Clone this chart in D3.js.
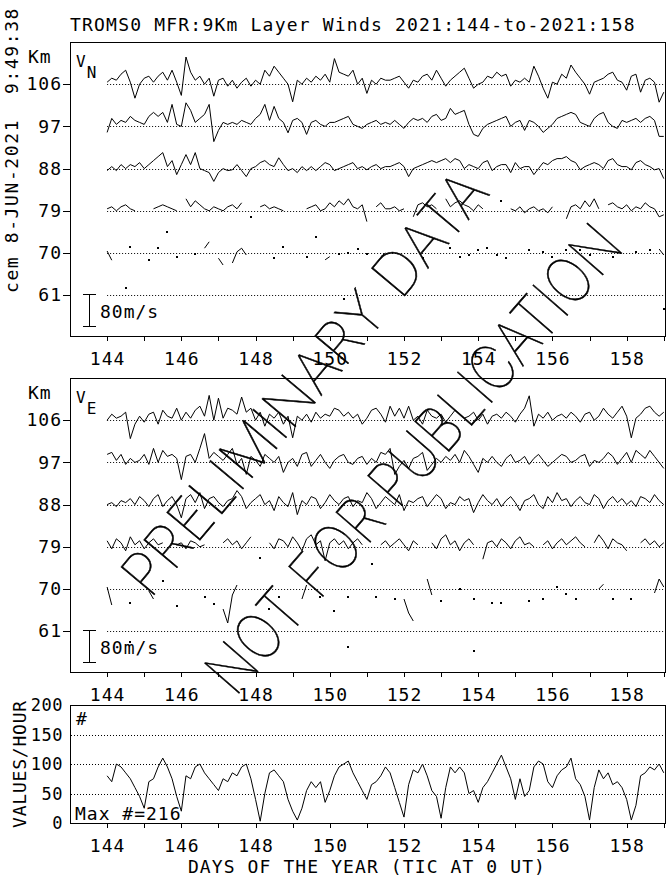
<!DOCTYPE html>
<html><head><meta charset="utf-8">
<script src="https://cdn.jsdelivr.net/npm/d3@7"></script>
<style>
body{margin:0;background:#fff}
svg{display:block}
text{font-family:"DejaVu Sans Mono",monospace;font-size:18px;fill:#000;letter-spacing:1px}
</style></head><body>
<script>
// ---------- DATA (3-hourly samples, day 144.0 .. 159.0) ----------
const title = "TROMS0 MFR:9Km Layer Winds 2021:144-to-2021:158";
const stamp = "cem 8-JUN-2021  9:49:38";
const heights = [106, 97, 88, 79, 70, 61];
const dayTicks = [144,145,146,147,148,149,150,151,152,153,154,155,156,157,158,159];
const countTicks = [0, 50, 100, 150, 200];
const maxCount = 216;

// Northward wind (m/s) per layer
const vn106 = [5,15,10,25,35,5,-35,0,15,20, 5,20,30,10,35,5,-28,68,30,10, 20,0,15,-30,10,15,-5,10,-10,5,
  15,-5,10,0,35,20,45,30,15,0, -44,10,0,15,5,20,10,25,5,64, 30,25,20,35,0,15,-23,10,0,15,
  10,10,15,20,5,-10,10,5,20,25, 10,35,15,-5,10,20,30,40,15,-10, 0,5,20,15,30,20,25,-5,10,5,
  15,5,45,20,-10,-35,5,0,25,15, 48,30,15,0,-25,5,10,15,25,30, 10,5,-15,20,25,-20,10,15,5,-45, -20];
const vn97 = [-15,20,5,15,10,25,15,10,5,25, 35,25,35,10,55,5,0,59,40,10, 20,30,55,-38,-10,10,5,10,5,15,
  10,5,20,30,55,15,50,20,10,-16, 15,20,10,-20,10,15,5,0,10,10, 15,20,25,5,0,-5,5,10,15,5,
  10,5,15,5,-5,10,20,15,20,10, 25,30,15,20,45,30,35,40,5,-20, -25,-5,5,10,15,20,25,0,10,15,
  -10,15,10,0,-15,-5,5,20,25,30, 35,30,10,5,0,20,30,35,10,0, -5,15,10,15,20,10,20,25,15,-25, -25];
const vn88 = [-5,5,-5,10,0,10,5,15,0,10, 20,30,40,5,20,-15,10,35,10,40, 0,-5,-10,-32,-10,0,-5,-3,10,-5,
  -20,0,5,15,20,10,5,27,10,-5, 0,-10,5,-5,5,-5,5,15,10,-5, 0,5,10,15,0,5,-3,5,10,0,
  5,5,10,15,5,-20,0,5,10,15, 20,15,20,25,15,25,20,0,10,5, 0,15,20,-5,5,10,10,-10,15,0,
  5,5,-15,0,15,10,20,25,25,30, 20,15,-3,5,10,15,10,0,20,25, 10,5,5,-3,15,20,10,5,-3,0, -25];
const vn79 = [5,10,0,10,15,5,0,null,null,null, 5,10,15,10,5,0,null,30,10,25, 15,5,0,10,5,0,10,15,5,20,
  null,-15,null,10,15,5,10,5,0,null, null,null,null,5,10,15,0,5,20,10, 25,15,30,10,5,15,-27,null,10,20,
  5,5,10,0,5,null,-15,15,20,10, 15,5,null,30,10,20,25,15,10,0, 15,5,null,null,null,25,null,5,0,10,
  -5,5,10,0,5,-5,10,null,null,-20, 10,15,5,25,10,30,5,null,15,20, 10,5,15,0,10,5,20,10,5,-15, -10];
// sparse layers: [sample index, m/s]
const vn70 = [[0,5],[1,-18],[5,16],[9,-17],[11,13],[13,53],[15,-9],[19,-3],[21,12],[22,28],[24,-13],[25,-30],
  [27,-25],[28,3],[29,12],[30,-5],[36,-13],[38,16],[43,-9],[45,40],[47,-17],[48,-9],[50,-3],[52,0],[54,9],
  [56,-3],[59,-9],[60,0],[68,-13],[74,12],[76,-9],[78,-5],[80,7],[82,12],[84,-5],[86,-13],[91,7],[94,3],
  [96,-9],[99,7],[102,7],[104,-5],[109,-9],[114,3],[117,7],[119,10],[120,-5]];
const vn61 = [[4,17],[51,-10],[120,-35]];

// Eastward wind (m/s) per layer
const ve106 = [0,15,5,10,20,-46,-10,10,-5,15, 20,-10,25,10,5,30,0,20,5,25, 35,10,62,0,55,5,30,25,15,58,
  20,30,0,20,-15,15,5,20,-10,10, -44,10,0,15,-5,20,5,15,10,30, 25,10,20,5,15,-10,5,25,30,15,
  -5,35,10,30,5,35,0,10,-10,25, 10,5,15,-5,10,25,15,5,10,20, 0,15,-10,10,15,5,20,10,-5,15,
  30,61,-15,15,5,20,0,10,15,5, 20,10,-5,15,20,0,10,30,15,5, 20,35,10,-44,5,15,30,35,20,10, 20];
const ve97 = [20,25,5,20,-5,10,0,5,20,-5, 35,0,30,15,20,10,-43,15,20,0, 35,72,10,25,15,5,20,35,-5,10,
  -30,15,5,-10,20,10,0,15,-25,0, 10,-10,20,25,-10,5,20,0,-15,5, 15,20,0,-5,10,15,-5,10,0,25,
  20,35,-30,-10,5,-15,10,15,25,-20, -5,10,0,15,5,20,0,30,15,-5, -25,10,0,15,0,-10,10,20,0,5,
  15,-5,10,20,5,-10,0,10,20,15, 0,5,15,20,-10,5,0,10,25,15, -5,10,25,0,30,20,10,30,15,0, -15];
const ve88 = [0,5,-5,10,5,15,0,20,10,-5, 15,25,-5,10,20,0,-33,15,25,5, 30,-10,15,20,5,-5,10,15,35,20,
  -10,5,15,25,0,10,-15,20,5,-5, 30,-25,10,0,20,15,-10,5,25,10, 0,15,20,-5,10,5,30,15,-10,5,
  20,10,0,25,-15,10,5,15,20,-5, 10,25,15,-10,5,0,20,10,15,-20, 5,25,10,0,15,-5,10,20,5,-15,
  10,15,25,0,-10,20,5,30,10,15, -5,10,20,5,0,25,15,-10,10,20, 5,15,0,10,-5,20,15,5,25,10, 0];
const ve79 = [15,-5,20,10,-10,25,5,15,-5,10, 20,5,10,null,null,5,10,-5,15,10, 0,5,null,null,null,10,20,5,15,-5,
  10,25,null,-28,null,10,-5,20,15,0, 25,10,-10,20,30,5,15,-35,10,20, 5,15,-5,10,20,5,null,-43,null,5,
  15,0,10,20,5,-10,15,5,null,null, 10,-5,20,30,5,15,-10,10,20,5, null,-31,10,15,0,20,10,-5,15,25,
  5,10,0,null,5,15,-5,10,20,5, 15,25,10,0,null,10,30,15,-5,20, 10,5,-10,null,null,10,20,5,15,0, 10];
const ve70 = [[0,5],[1,-40],[5,-35],[9,-5],[10,-25],[12,20],[15,-42],[21,-20],[23,-37],[25,-50],[26,-85],
  [27,-15],[28,10],[35,-50],[37,-20],[42,-25],[43,10],[46,-20],[49,-55],[52,-20],[58,-20],[62,-25],[64,-25],
  [65,-60],[66,-80],[69,25],[70,-15],[72,-30],[76,0],[79,-25],[83,-35],[85,-35],[91,-30],[94,-25],[97,5],
  [99,-12],[101,-25],[106,0],[107,12],[109,-25],[113,-25],[118,-10],[119,25],[120,5]];
const ve61 = [[5,-27],[52,-40],[79,-50]];

// Values per hour
const counts = [80,70,100,95,85,75,60,45,25,70, 75,95,110,95,75,45,20,80,75,95, 100,85,75,65,55,75,70,85,80,95,
  100,75,40,3,50,85,90,80,70,40, 20,5,25,55,70,60,70,35,55,80, 95,100,105,85,70,55,40,65,70,80,
  95,85,60,35,10,65,90,85,100,80, 55,45,8,60,95,85,95,85,50,55, 35,60,70,85,100,115,95,75,40,75,
  45,55,95,105,100,70,60,80,90,95, 110,75,65,45,5,60,90,75,85,65, 70,60,40,5,30,80,85,95,90,100, 85];

// ---------- DRAW ----------
const W = 672, H = 877;
const svg = d3.select("body").append("svg").attr("width", W).attr("height", H);
svg.append("rect").attr("width", W).attr("height", H).attr("fill", "#fff");

const x = d3.scaleLinear().domain([143, 159.06]).range([70, 666]);
const tOf = i => 144 + i / 8;
const vs = d3.scaleLinear().domain([0, 80]).range([0, 32]);
const sparse = pts => { const a = new Array(121).fill(null); pts.forEach(([i, v]) => a[i] = v); return a; };

svg.append("text").attr("x", 70).attr("y", 31).style("letter-spacing", "1.2px").text(title);
svg.append("text").attr("transform", "translate(18,293) rotate(-90)")
  .style("white-space", "pre").style("letter-spacing", "1.6px").text(stamp);

function xAxis(yPos) {
  const g = svg.append("g").attr("transform", `translate(0,${yPos})`)
    .call(d3.axisBottom(x).tickValues(dayTicks).tickSize(5).tickFormat(d => d % 2 === 0 ? d : ""));
  g.select(".domain").remove();
  g.selectAll("line").attr("stroke", "#000").attr("shape-rendering", "crispEdges");
  g.selectAll("text").attr("y", 16).attr("font-size", null).attr("font-family", null)
    .style("font-size", "18px");
  g.attr("font-size", null).attr("font-family", null);
}

function windPanel(top, sub, list) {
  const yH = d3.scaleLinear().domain([52.3, 115]).range([top + 294, top]);
  svg.append("rect").attr("x", 70.5).attr("y", top + 0.5).attr("width", 595).attr("height", 294)
    .attr("fill", "none").attr("stroke", "#000").attr("shape-rendering", "crispEdges");
  const ga = svg.append("g").attr("transform", "translate(70,0)")
    .call(d3.axisLeft(yH).tickValues(heights).tickSize(7).tickFormat(d3.format("d")));
  ga.select(".domain").remove();
  ga.attr("font-size", null).attr("font-family", null);
  ga.selectAll("line").attr("stroke", "#000").attr("shape-rendering", "crispEdges");
  ga.selectAll("text").attr("x", -8).style("font-size", "18px");
  xAxis(top + 294);
  svg.append("text").attr("x", 28).attr("y", top + 21).text("Km");
  const v = svg.append("text").attr("x", 76).attr("y", top + 25).style("font-size", "16px");
  v.append("tspan").text("V");
  v.append("tspan").attr("dy", 11).text(sub);
  heights.forEach(h => {
    svg.append("line").attr("x1", x(144)).attr("x2", x(159)).attr("y1", Math.round(yH(h)) + 0.5)
      .attr("y2", Math.round(yH(h)) + 0.5).attr("stroke", "#000").attr("stroke-dasharray", "1,2");
  });
  const b0 = top + 252, b1 = b0 + vs(80);
  const sb = svg.append("g").attr("stroke", "#000").attr("shape-rendering", "crispEdges");
  sb.append("line").attr("x1", 89.5).attr("x2", 89.5).attr("y1", b0).attr("y2", b1);
  sb.append("line").attr("x1", 83).attr("x2", 96).attr("y1", b0 + 0.5).attr("y2", b0 + 0.5);
  sb.append("line").attr("x1", 83).attr("x2", 96).attr("y1", b1 + 0.5).attr("y2", b1 + 0.5);
  svg.append("text").attr("x", 100).attr("y", top + 276).text("80m/s");
  list.forEach(([h, arr]) => {
    const pts = arr.map((val, i) => ({ t: tOf(i), v: val }));
    const line = d3.line().defined(d => d.v != null).x(d => x(d.t)).y(d => yH(h) - vs(d.v));
    svg.append("path").attr("d", line(pts)).attr("fill", "none").attr("stroke", "#000").attr("stroke-width", 1);
    pts.forEach((d, i) => {
      if (d.v == null) return;
      const prev = i > 0 ? pts[i - 1].v : null, next = i < pts.length - 1 ? pts[i + 1].v : null;
      if (prev == null && next == null) {
        svg.append("rect").attr("x", Math.round(x(d.t)) - 1).attr("y", Math.round(yH(h) - vs(d.v)) - 1)
          .attr("width", 2).attr("height", 2).attr("fill", "#000");
      }
    });
  });
}

windPanel(42, "N", [[106, vn106], [97, vn97], [88, vn88], [79, vn79], [70, sparse(vn70)], [61, sparse(vn61)]]);
windPanel(378, "E", [[106, ve106], [97, ve97], [88, ve88], [79, ve79], [70, sparse(ve70)], [61, sparse(ve61)]]);

// count panel
const yC = d3.scaleLinear().domain([0, 200]).range([823, 705]);
[50, 100, 150].forEach(c => {
  svg.append("line").attr("x1", 71).attr("x2", 665).attr("y1", Math.round(yC(c)) + 0.5).attr("y2", Math.round(yC(c)) + 0.5)
    .attr("stroke", "#000").attr("stroke-dasharray", "1,2");
});
svg.append("rect").attr("x", 70.5).attr("y", 705.5).attr("width", 595).attr("height", 117.5)
  .attr("fill", "none").attr("stroke", "#000").attr("shape-rendering", "crispEdges");
xAxis(823);
countTicks.forEach(c => {
  svg.append("text").attr("x", 63).attr("y", yC(c) + 6).attr("text-anchor", "end")
    .style("font-size", "17px").style("letter-spacing", "0.5px").text(c);
});
svg.append("text").attr("transform", "translate(26,764) rotate(-90)").attr("text-anchor", "middle")
  .style("letter-spacing", "0.8px").text("VALUES/HOUR");
svg.append("text").attr("x", 76).attr("y", 725).text("#");
svg.append("text").attr("x", 75).attr("y", 820).text("Max #=" + maxCount);
svg.append("text").attr("x", 367).attr("y", 873).attr("text-anchor", "middle").style("letter-spacing", "1.1px")
  .text("DAYS OF THE YEAR (TIC AT 0 UT)");
const cLine = d3.line().x((d, i) => x(tOf(i))).y(d => yC(d));
svg.append("path").attr("d", cLine(counts)).attr("fill", "none").attr("stroke", "#000").attr("stroke-width", 1);

// watermark
const wm = svg.append("g");
wm.append("text").attr("transform", "translate(150,600) rotate(-50)")
  .attr("textLength", 531).attr("lengthAdjust", "spacingAndGlyphs")
  .style("font-family", "Inter").style("font-weight", "100").style("font-size", "60px").style("letter-spacing", "0")
  .style("fill", "#000").style("stroke", "#000").style("stroke-width", "0.5px")
  .text("PRELIMINARY DATA");
wm.append("text").attr("transform", "translate(235,698) rotate(-49)")
  .attr("textLength", 596).attr("lengthAdjust", "spacingAndGlyphs")
  .style("font-family", "Inter").style("font-weight", "100").style("font-size", "63px").style("letter-spacing", "0")
  .style("fill", "#000").style("stroke", "#000").style("stroke-width", "0.5px")
  .text("NOT FOR PUBLICATION");
</script>
</body></html>
